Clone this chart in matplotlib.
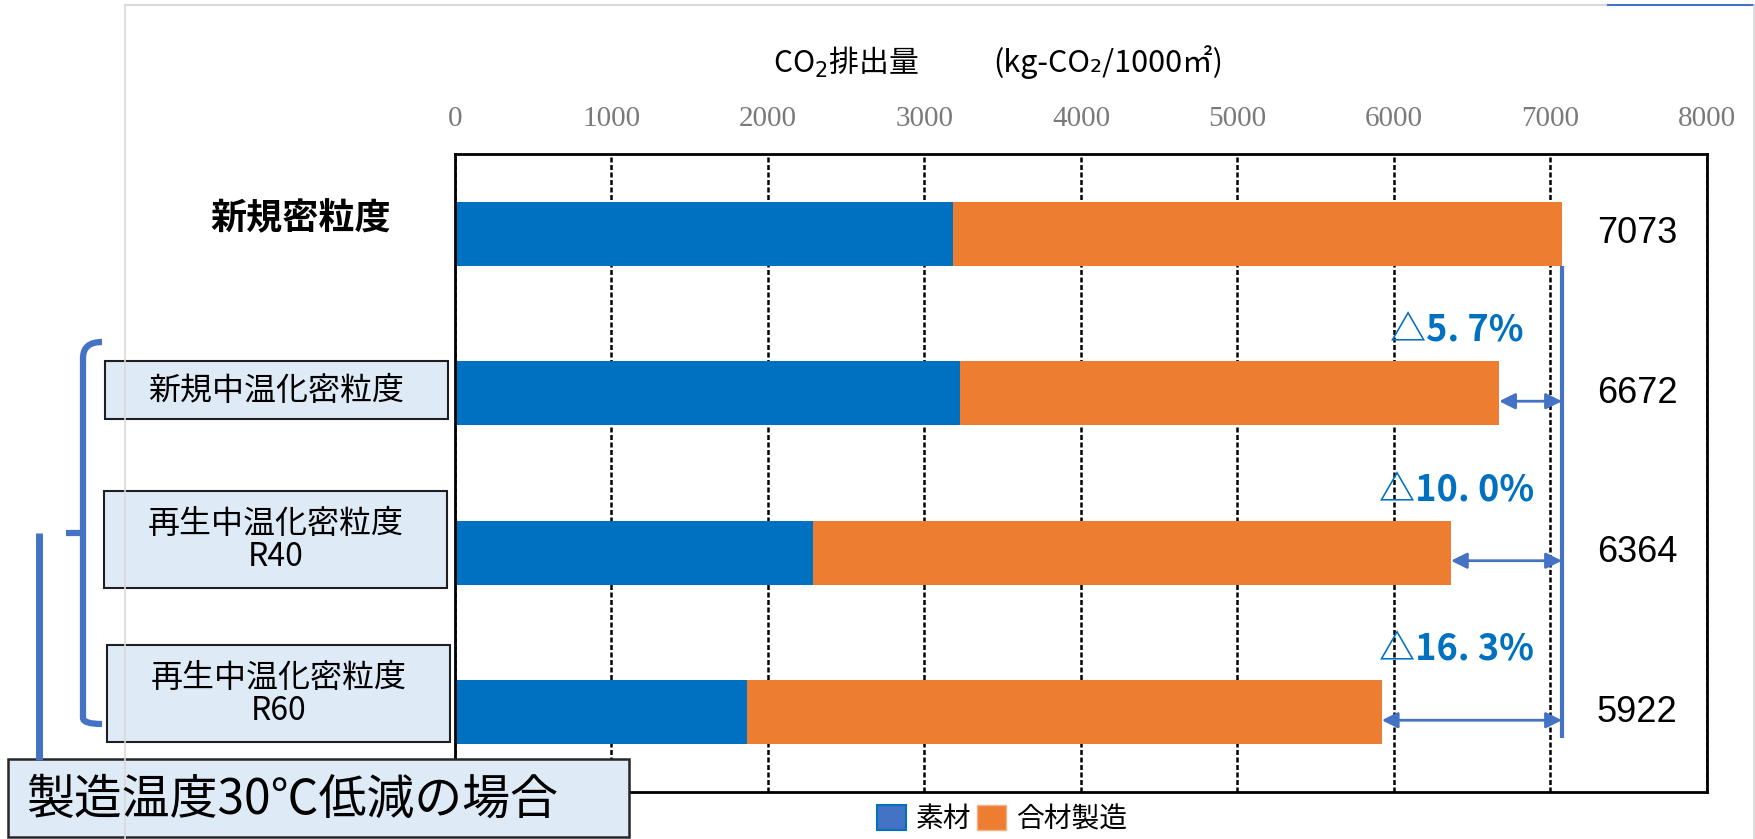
import matplotlib
matplotlib.use("Agg")
import matplotlib.pyplot as plt
from matplotlib.patches import Rectangle, Patch
from matplotlib.path import Path
from matplotlib.patches import PathPatch
import numpy as np

plt.rcParams['font.family'] = ['Noto Sans CJK JP', 'DejaVu Sans']

# data
categories = ['新規密粒度', '新規中温化密粒度', '再生中温化密粒度\nR40', '再生中温化密粒度\nR60']
material = [3180, 3230, 2290, 1866]          # 素材
totals = [7073, 6672, 6364, 5922]           # total CO2
mixing = [t - m for t, m in zip(totals, material)]  # 合材製造
xticks = [0, 1000, 2000, 3000, 4000, 5000, 6000, 7000, 8000]

BLUE = '#0070C0'
ORANGE = '#ED7D31'
LINE_BLUE = '#4472C4'
BOX_FILL = '#DEEBF7'

W, H = 1756, 839
fig = plt.figure(figsize=(W / 100, H / 100), dpi=100)

# main plot area
ax = fig.add_axes([455 / W, 1 - 792 / H, (1707 - 455) / W, (792 - 154) / H])
y = np.arange(len(categories))
ax.barh(y, material, height=0.4, color=BLUE, zorder=2)
ax.barh(y, mixing, left=material, height=0.4, color=ORANGE, zorder=2)
ax.set_xlim(0, 8000)
ax.set_ylim(3.5, -0.5)
ax.set_yticks([])
ax.xaxis.tick_top()
ax.set_xticks(xticks)
ax.set_xticklabels([str(v) for v in xticks], family=['Liberation Serif', 'DejaVu Serif'],
                   fontsize=21, color='#7a7a7a')
ax.tick_params(axis='x', length=0, pad=16)
ax.grid(axis='x', color='black', linestyle=(0, (2, 1)), linewidth=1.8, zorder=1)
ax.set_axisbelow(True)
for s in ax.spines.values():
    s.set_linewidth(2)
    s.set_color('black')

# totals on the right
for i, t in enumerate(totals):
    ax.text(7553, i, str(t), ha='center', va='center', fontsize=26,
            family=['Liberation Sans', 'DejaVu Sans'])

# reference line and reduction arrows
ref = totals[0]
ax.plot([ref, ref], [0.2, 3.16], color=LINE_BLUE, lw=3, solid_capstyle='butt', zorder=3)
for i in range(1, len(totals)):
    ax.annotate('', xy=(ref, i + 0.05), xytext=(totals[i], i + 0.05),
                arrowprops=dict(arrowstyle='<|-|>', color=LINE_BLUE, lw=2,
                                shrinkA=0, shrinkB=0, mutation_scale=24), zorder=3)
    pct = (ref - totals[i]) / ref * 100
    ax.text(6400, i - 0.39, f'△{pct:.1f}%'.replace('.', '. '), ha='center', va='center',
            fontsize=26, fontweight='bold', color=BLUE)

# legend
ax.legend(handles=[Patch(facecolor=LINE_BLUE, edgecolor=BLUE, lw=1.5, label='素材'),
                   Patch(facecolor=ORANGE, edgecolor='#F4B183', lw=1, label='合材製造')],
          loc='center', bbox_to_anchor=(1002 / W, 1 - 819 / H), bbox_transform=fig.transFigure,
          ncol=2, frameon=False, fontsize=20, handlelength=1.05, handleheight=1.05,
          handletextpad=0.35, columnspacing=0.2)

# overlay for labels and decorations (pixel coordinates)
ov = fig.add_axes([0, 0, 1, 1], zorder=5)
ov.set_xlim(0, W)
ov.set_ylim(H, 0)
ov.axis('off')

# faint slide frame
ov.plot([125, 125], [5, H], color='#d9d9d9', lw=1.2)
ov.plot([125, 1608], [5, 5], color='#d9d9d9', lw=1.5)
ov.plot([1608, W], [5, 5], color=LINE_BLUE, lw=1.5)
ov.plot([W - 2, W - 2], [5, H], color='#d9d9d9', lw=1.2)

# axis title
ov.text(846, 62, 'CO$_2$排出量', ha='center', va='center', fontsize=21.5)
ov.text(993, 62, '(kg-CO₂/1000㎡)', ha='left', va='center', fontsize=22)

# category labels
ov.text(301, 219, categories[0], ha='center', va='center', fontsize=26, fontweight='bold')
boxes = [(105, 361, 343, 58), (104, 491, 343, 97), (107, 645, 343, 97)]
for (bx, by, bw, bh), lab in zip(boxes, categories[1:]):
    ov.add_patch(Rectangle((bx, by), bw, bh, facecolor=BOX_FILL, edgecolor='#1f1f1f', lw=1.5))
    ov.text(bx + bw / 2, by + bh / 2 + 1, lab, ha='center', va='center', fontsize=23,
            linespacing=1.0)

# brace
verts = [(102, 342), (83, 342), (83, 358), (83, 718), (83, 724), (102, 724)]
codes = [Path.MOVETO, Path.CURVE3, Path.CURVE3, Path.LINETO, Path.CURVE3, Path.CURVE3]
ov.add_patch(PathPatch(Path(verts, codes), fill=False, edgecolor=LINE_BLUE, lw=4.5))
ov.plot([66, 83], [533, 533], color=LINE_BLUE, lw=4.5, solid_capstyle='butt')
ov.plot([39, 39], [533, 760], color=LINE_BLUE, lw=5, solid_capstyle='butt')

# condition box
ov.add_patch(Rectangle((8, 759), 621, 78, facecolor=BOX_FILL, edgecolor='#262626', lw=1.8))
ov.text(26, 800, '製造温度30℃低減の場合', ha='left', va='center', fontsize=34.5)

fig.savefig('out.png', dpi=100)
